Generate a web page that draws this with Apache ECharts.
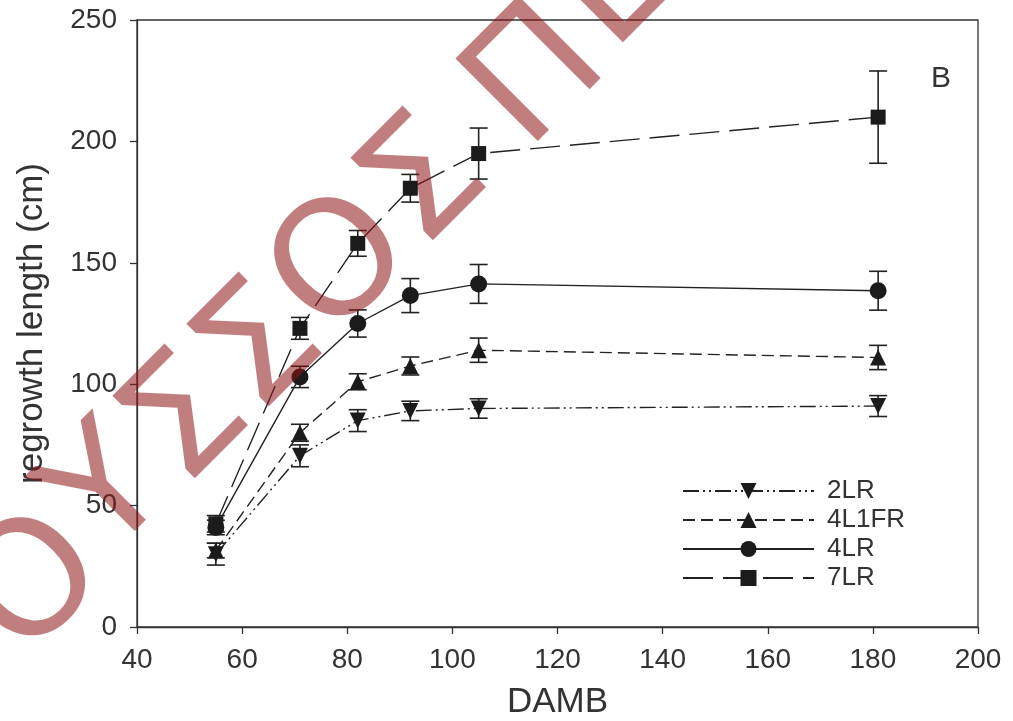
<!DOCTYPE html>
<html>
<head>
<meta charset="utf-8">
<script src="https://cdn.jsdelivr.net/npm/echarts@6/dist/echarts.min.js"></script>
<style>
html,body{margin:0;padding:0;background:#fff;}
#chart{width:1013px;height:721px;}
</style>
</head>
<body>
<div id="chart"></div>
<script>
// ---- data ----
const damb = [55, 71, 82, 92, 105, 181];
const seriesNames = ['2LR', '4L1FR', '4LR', '7LR'];
const v2LR    = [30, 70.5, 85, 89, 90, 91];
const e2LR    = [4.5, 4.5, 4.5, 4, 4, 4.3];
const v4L1FR  = [31.5, 80, 101, 107.5, 114, 111];
const e4L1FR  = [3, 3.5, 3.3, 3.7, 5, 5];
const v4LR    = [41, 103, 125, 136.5, 141.3, 138.5];
const e4LR    = [3, 4.4, 5.6, 7, 8, 8];
const v7LR    = [42.5, 123, 158, 180.7, 195, 210];
const e7LR    = [3.4, 4.5, 5.3, 5.7, 10.5, 19];
const xTicks = [40, 60, 80, 100, 120, 140, 160, 180, 200];
const yTicks = [0, 50, 100, 150, 200, 250];
const panelLabel = 'B';
const watermark = ['Ο', 'Υ', 'Σ', 'Σ', 'Ο', 'Σ', 'Π', 'Ε'];

const ink = '#222';
const FONT = '"Liberation Sans", Arial, Helvetica, sans-serif';

const pairs = (vals) => damb.map((x, i) => [x, vals[i]]);
const errData = (vals, errs) => damb.map((x, i) => [x, vals[i] - errs[i], vals[i] + errs[i]]);

function errRender(params, api) {
  const xv = api.value(0);
  const lo = api.coord([xv, api.value(1)]);
  const hi = api.coord([xv, api.value(2)]);
  const w = 9;
  const st = { stroke: ink, lineWidth: 1.6 };
  return {
    type: 'group',
    children: [
      { type: 'line', shape: { x1: lo[0], y1: lo[1], x2: hi[0], y2: hi[1] }, style: st },
      { type: 'line', shape: { x1: lo[0] - w, y1: lo[1], x2: lo[0] + w, y2: lo[1] }, style: st },
      { type: 'line', shape: { x1: hi[0] - w, y1: hi[1], x2: hi[0] + w, y2: hi[1] }, style: st }
    ]
  };
}

const lineDefs = [
  { name: seriesNames[0], vals: v2LR, errs: e2LR, symbol: 'triangle', rot: 180, size: 16, dash: [16, 4, 2, 4, 2, 4] },
  { name: seriesNames[1], vals: v4L1FR, errs: e4L1FR, symbol: 'triangle', rot: 0, size: 16, dash: [12, 6] },
  { name: seriesNames[2], vals: v4LR, errs: e4LR, symbol: 'circle', rot: 0, size: 17, dash: 'solid' },
  { name: seriesNames[3], vals: v7LR, errs: e7LR, symbol: 'rect', rot: 0, size: 15, dash: [30, 10] }
];

const series = [];
lineDefs.forEach(d => {
  series.push({
    type: 'custom',
    name: d.name + ' error',
    data: errData(d.vals, d.errs),
    renderItem: errRender,
    z: 3,
    silent: true
  });
});
lineDefs.forEach(d => {
  series.push({
    type: 'line',
    name: d.name,
    data: pairs(d.vals),
    symbol: d.symbol,
    symbolRotate: d.rot,
    symbolSize: d.size,
    showAllSymbol: true,
    lineStyle: { color: ink, width: 1.4, type: d.dash },
    itemStyle: { color: '#1b1b1b', borderWidth: 0 },
    z: 4,
    animation: false
  });
});

// watermark letter centres (screen pixels)
const wmPos = [[38, 588], [111, 496], [190, 424], [264, 352], [345, 268], [428, 186], [540, 80], [618, -12]];
const graphics = watermark.map((ch, i) => ({
  type: 'text',
  x: wmPos[i][0],
  y: wmPos[i][1],
  rotation: Math.PI / 4,
  z: 100,
  silent: true,
  style: {
    text: ch,
    font: '160px "DejaVu Sans", sans-serif',
    fill: 'rgba(140,20,20,0.55)',
    align: 'center',
    verticalAlign: 'middle'
  }
}));
graphics.push({
  type: 'text',
  left: 931,
  top: 64,
  z: 10,
  style: { text: panelLabel, font: '30px ' + FONT, fill: '#333' }
});

const chart = echarts.init(document.getElementById('chart'), null, { renderer: 'canvas' });
chart.setOption({
  animation: false,
  backgroundColor: '#fff',
  grid: {
    left: 137, right: 35, top: 20, bottom: 94,
    containLabel: false, outerBoundsMode: 'none',
    show: true, borderColor: '#333', borderWidth: 1.3, backgroundColor: 'transparent'
  },
  xAxis: {
    type: 'value',
    min: xTicks[0], max: xTicks[xTicks.length - 1], interval: 20,
    name: 'DAMB', nameLocation: 'middle', nameGap: 58,
    nameTextStyle: { fontFamily: FONT, fontSize: 35, color: '#333' },
    axisLine: { show: true, lineStyle: { color: '#333', width: 1.3 } },
    axisTick: { show: true, length: 7, inside: false, lineStyle: { color: '#333', width: 1.3 } },
    axisLabel: { fontFamily: FONT, fontSize: 28, color: '#333', margin: 19 },
    splitLine: { show: false }
  },
  yAxis: {
    type: 'value',
    min: yTicks[0], max: yTicks[yTicks.length - 1], interval: 50,
    name: 'regrowth length (cm)', nameLocation: 'middle', nameGap: 87,
    nameTextStyle: { fontFamily: FONT, fontSize: 35, color: '#333' },
    axisLine: { show: true, lineStyle: { color: '#333', width: 1.3 } },
    axisTick: { show: true, length: 7, inside: false, lineStyle: { color: '#333', width: 1.3 } },
    axisLabel: { fontFamily: FONT, fontSize: 28, color: '#333', margin: 20 },
    splitLine: { show: false }
  },
  legend: {
    data: seriesNames.slice(),
    orient: 'vertical',
    left: 677,
    top: 473,
    itemWidth: 131,
    itemHeight: 20,
    itemGap: 3,
    textStyle: { fontFamily: FONT, fontSize: 26, color: '#333', padding: [0, 0, 0, 8] },
    selectedMode: false
  },
  graphic: graphics,
  series: series
});
</script>
</body>
</html>
